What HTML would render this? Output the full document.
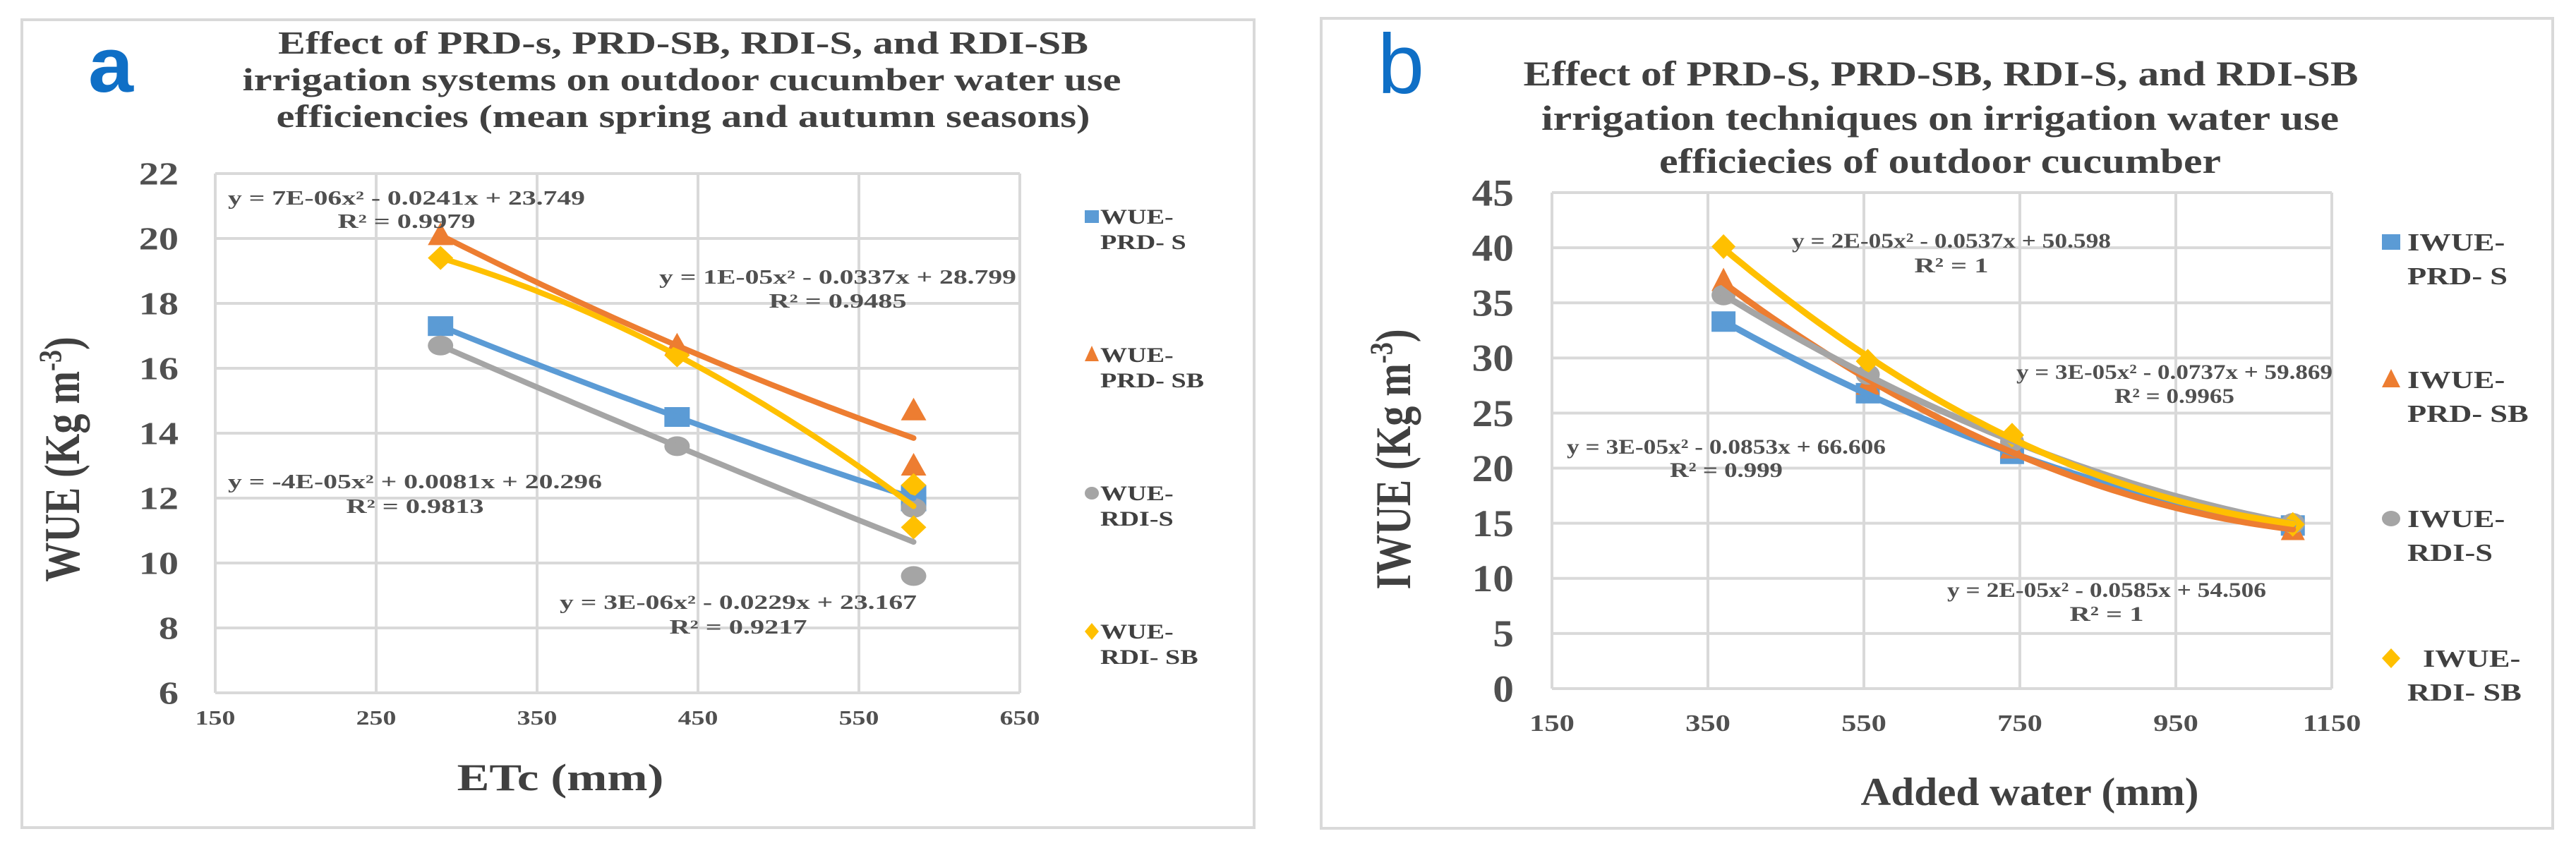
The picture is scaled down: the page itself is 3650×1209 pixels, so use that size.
<!DOCTYPE html>
<html><head><meta charset="utf-8"><style>
html,body{margin:0;padding:0;background:#fff;}
svg{display:block;}
</style></head><body>
<svg id="fig" width="3650" height="1209" viewBox="0 0 3650 1209" xmlns="http://www.w3.org/2000/svg" font-family="'Liberation Serif', serif">
<rect x="0" y="0" width="3650" height="1209" fill="#fff"/>
<rect x="31" y="28" width="1746" height="1145" fill="none" stroke="#d9d9d9" stroke-width="4"/>
<rect x="1872" y="26" width="1745" height="1148" fill="none" stroke="#d9d9d9" stroke-width="4"/>
<g id="pa"></g>
<g id="pb"></g>
</svg>
<script>
// Panel a data
const aX = [290, 290, 437, 584, 584];
const aPrdS  = [[290,17.3],[437,14.5],[584,12.1],[584,11.9]];
const aPrdSB = [[290,20.1],[437,16.7],[584,14.7],[584,13.0]];
const aRdiS  = [[290,16.7],[437,13.6],[584,11.7],[584,9.6]];
const aRdiSB = [[290,19.4],[437,16.4],[584,12.4],[584,11.1]];
const aXTicks = [150,250,350,450,550,650];
const aYTicks = [6,8,10,12,14,16,18,20,22];
// Panel b data
const bPrdS  = [[370,33.3],[555,26.8],[740,21.3],[1100,14.8]];
const bPrdSB = [[370,37.0],[555,27.6],[740,21.8],[1100,14.4]];
const bRdiS  = [[370,35.7],[555,28.5],[740,22.4],[1100,15.0]];
const bRdiSB = [[370,40.1],[555,29.7],[740,23.0],[1100,14.9]];
const bXTicks = [150,350,550,750,950,1150];
const bYTicks = [0,5,10,15,20,25,30,35,40,45];

const NS='http://www.w3.org/2000/svg';
const C={blue:'#5b9bd5',orange:'#ed7d31',gray:'#a5a5a5',yellow:'#ffc000'};
function el(tag,attrs,parent){const e=document.createElementNS(NS,tag);for(const k in attrs)e.setAttribute(k,attrs[k]);parent.appendChild(e);return e;}
function txt(parent,x,y,s,o){
  const t=el('text',{x:0,y:0,'font-size':o.fs,'font-weight':o.fw||'bold',fill:o.fill||'#404040','text-anchor':o.anchor||'middle',transform:`translate(${x},${y}) scale(${o.sx||1},1)${o.rot?' rotate('+o.rot+')':''}`},parent);
  if(o.ff)t.setAttribute('font-family',o.ff);
  if(o.len){t.setAttribute('textLength',o.len/(o.sx||1));t.setAttribute('lengthAdjust','spacingAndGlyphs');}
  t.textContent=s;return t;
}
function fitQuad(pts){
  let S=[0,0,0,0,0],T=[0,0,0];
  pts.forEach(([x,y])=>{let p=1;for(let i=0;i<5;i++){S[i]+=p;if(i<3)T[i]+=p*y;p*=x;}});
  const M=[[S[0],S[1],S[2],T[0]],[S[1],S[2],S[3],T[1]],[S[2],S[3],S[4],T[2]]];
  for(let i=0;i<3;i++){let mx=i;for(let r=i+1;r<3;r++)if(Math.abs(M[r][i])>Math.abs(M[mx][i]))mx=r;[M[i],M[mx]]=[M[mx],M[i]];
    for(let r=0;r<3;r++)if(r!==i){const f=M[r][i]/M[i][i];for(let c=i;c<4;c++)M[r][c]-=f*M[i][c];}}
  return [M[0][3]/M[0][0],M[1][3]/M[1][1],M[2][3]/M[2][2]];
}
function marker(g,type,cx,cy,color,w,h){
  let m;
  if(type==='square')m=el('rect',{x:cx-w/2,y:cy-h/2,width:w,height:h,fill:color},g);
  else if(type==='tri')m=el('polygon',{points:`${cx},${cy-h/2-4} ${cx+w/2},${cy+h/2} ${cx-w/2},${cy+h/2}`,fill:color},g);
  else if(type==='circle')m=el('ellipse',{cx:cx,cy:cy,rx:w/2,ry:h/2,fill:color},g);
  else m=el('polygon',{points:`${cx},${cy-h/2-3} ${cx+w/2},${cy} ${cx},${cy+h/2+3} ${cx-w/2},${cy}`,fill:color},g);
  return m;
}
function panel(g,cfg){
  const sx=v=>cfg.px0+(v-cfg.xmin)/(cfg.xmax-cfg.xmin)*(cfg.px1-cfg.px0);
  const sy=v=>cfg.py1-(v-cfg.ymin)/(cfg.ymax-cfg.ymin)*(cfg.py1-cfg.py0);
  const grid=el('g',{},g);
  
  
  cfg.yt.forEach(v=>{el('line',{x1:cfg.px0,x2:cfg.px1,y1:sy(v),y2:sy(v),stroke:'#d9d9d9','stroke-width':4},grid);
    const t=txt(g,cfg.ytx,sy(v)+cfg.yfs*0.34,String(v),{fs:cfg.yfs,sx:cfg.ysx,anchor:'end',fill:'#505050'});
    
    });
  cfg.xt.forEach(v=>{el('line',{x1:sx(v),x2:sx(v),y1:cfg.py0,y2:cfg.py1,stroke:'#d9d9d9','stroke-width':4},grid);
    const t=txt(g,sx(v),cfg.xty,String(v),{fs:cfg.xfs,sx:cfg.xsx,fill:'#505050'});
    
    });
  cfg.series.forEach(s=>{
    const sg=el('g',{},g);
    
    
    s.data.forEach(([x,y])=>{const m=marker(sg,s.m,sx(x),sy(y),s.c,cfg.mw,cfg.mh);
      
      });
  });
  cfg.series.forEach(s=>{
    const [a0,a1,a2]=fitQuad(s.data);
    const xs=s.data.map(d=>d[0]);const lo=Math.min(...xs),hi=Math.max(...xs);
    let pts=[];for(let i=0;i<=60;i++){const x=lo+(hi-lo)*i/60;pts.push(sx(x).toFixed(1)+','+sy(a0+a1*x+a2*x*x).toFixed(1));}
    const p=el('polyline',{points:pts.join(' '),fill:'none',stroke:s.c,'stroke-width':cfg.lw,'stroke-linecap':'round'},g);
    
    
  });
}
const pa=document.getElementById('pa'),pb=document.getElementById('pb');
panel(pa,{px0:305,px1:1445,py0:246,py1:982,xmin:150,xmax:650,ymin:6,ymax:22,xt:aXTicks,yt:aYTicks,
  ytx:253,yfs:45,ysx:1.25,xty:1027,xfs:28,xsx:1.35,mw:36,mh:28,lw:8,
  series:[{id:'wue-prd-s',data:aPrdS,c:C.blue,m:'square'},{id:'wue-prd-sb',data:aPrdSB,c:C.orange,m:'tri'},
          {id:'wue-rdi-s',data:aRdiS,c:C.gray,m:'circle'},{id:'wue-rdi-sb',data:aRdiSB,c:C.yellow,m:'diamond'}]});
panel(pb,{px0:2199,px1:3304,py0:273,py1:976,xmin:150,xmax:1150,ymin:0,ymax:45,xt:bXTicks,yt:bYTicks,
  ytx:2145,yfs:54,ysx:1.1,xty:1036,xfs:34,xsx:1.25,mw:34,mh:29,lw:9,
  series:[{id:'iwue-prd-s',data:bPrdS,c:C.blue,m:'square'},{id:'iwue-prd-sb',data:bPrdSB,c:C.orange,m:'tri'},
          {id:'iwue-rdi-s',data:bRdiS,c:C.gray,m:'circle'},{id:'iwue-rdi-sb',data:bRdiSB,c:C.yellow,m:'diamond'}]});

function named(t,n){return t;}
// Panel a texts
named(txt(pa,157,130,'a',{fs:110,ff:"'Liberation Sans', sans-serif",fill:'#0f6fc6',len:64}),'panel-label-a');
named(txt(pa,968,76,'Effect of PRD-s, PRD-SB, RDI-S, and RDI-SB',{fs:46,len:1148}),'chart-title');
named(txt(pa,966,128,'irrigation systems on outdoor cucumber water use',{fs:46,len:1245}),'chart-title');
named(txt(pa,968,180,'efficiencies (mean spring and autumn seasons)',{fs:46,len:1153}),'chart-title');
const eqA=[[576,290,'y = 7E-06x² - 0.0241x + 23.749',506],[576,323,'R² = 0.9979',195],
 [1187,402,'y = 1E-05x² - 0.0337x + 28.799',506],[1187,436,'R² = 0.9485',195],
 [588,692,'y = -4E-05x² + 0.0081x + 20.296',530],[588,727,'R² = 0.9813',195],
 [1046,863,'y = 3E-06x² - 0.0229x + 23.167',506],[1046,898,'R² = 0.9217',195]];
eqA.forEach(e=>named(txt(pa,e[0],e[1],e[2],{fs:28,len:e[3],fill:'#505050'}),'trendline-equation'));
const ya=txt(pa,112,651,'',{fs:56,sx:1.27,rot:-90});named(ya,'y-axis-title');
ya.innerHTML='WUE (Kg m<tspan dy="-20" font-size="36">-3</tspan><tspan dy="20">)</tspan>';
named(txt(pa,794,1120,'ETc (mm)',{fs:54,sx:1.27}),'x-axis-title');
const legA=[['square',C.blue,317,'WUE-','PRD- S'],['tri',C.orange,513,'WUE-','PRD- SB'],['circle',C.gray,709,'WUE-','RDI-S'],['diamond',C.yellow,905,'WUE-','RDI- SB']];
legA.forEach(l=>{const lg=el('g',{},pa);
  
  
  marker(lg,l[0],1547,l[2]-10,l[1],20,18);
  txt(lg,1559,l[2],l[3],{fs:30,sx:1.27,anchor:'start'});txt(lg,1559,l[2]+36,l[4],{fs:30,sx:1.27,anchor:'start'});});
// Panel b texts
named(txt(pb,1985,132,'b',{fs:120,fw:'normal',ff:"'Liberation Sans', sans-serif",fill:'#0f6fc6',len:66}),'panel-label-b');
named(txt(pb,2750,121,'Effect of PRD-S, PRD-SB, RDI-S, and RDI-SB',{fs:50,len:1183}),'chart-title');
named(txt(pb,2749,184,'irrigation techniques on irrigation water use',{fs:50,len:1130}),'chart-title');
named(txt(pb,2749,245,'efficiecies of outdoor cucumber',{fs:50,len:796}),'chart-title');
const eqB=[[2765,351,'y = 2E-05x² - 0.0537x + 50.598',452],[2765,386,'R² = 1',105],
 [3081,537,'y = 3E-05x² - 0.0737x + 59.869',448],[3081,571,'R² = 0.9965',170],
 [2446,643,'y = 3E-05x² - 0.0853x + 66.606',452],[2446,676,'R² = 0.999',160],
 [2985,846,'y = 2E-05x² - 0.0585x + 54.506',452],[2985,880,'R² = 1',105]];
eqB.forEach(e=>named(txt(pb,e[0],e[1],e[2],{fs:30,len:e[3],fill:'#505050'}),'trendline-equation'));
const yb=txt(pb,1998,651,'',{fs:56,sx:1.27,rot:-90});named(yb,'y-axis-title');
yb.innerHTML='IWUE (Kg m<tspan dy="-20" font-size="36">-3</tspan><tspan dy="20">)</tspan>';
named(txt(pb,2876,1141,'Added water (mm)',{fs:56,len:479}),'x-axis-title');
const legB=[['square',C.blue,355,'IWUE-','PRD- S',3411],['tri',C.orange,550,'IWUE-','PRD- SB',3411],['circle',C.gray,747,'IWUE-','RDI-S',3411],['diamond',C.yellow,945,'IWUE-','RDI- SB',3433]];
legB.forEach(l=>{const lg=el('g',{},pb);
  
  
  marker(lg,l[0],3388,l[2]-12,l[1],26,22);
  txt(lg,l[5],l[2],l[3],{fs:35,sx:1.27,anchor:'start'});txt(lg,3411,l[2]+48,l[4],{fs:35,sx:1.27,anchor:'start'});});
</script>
</body></html>
